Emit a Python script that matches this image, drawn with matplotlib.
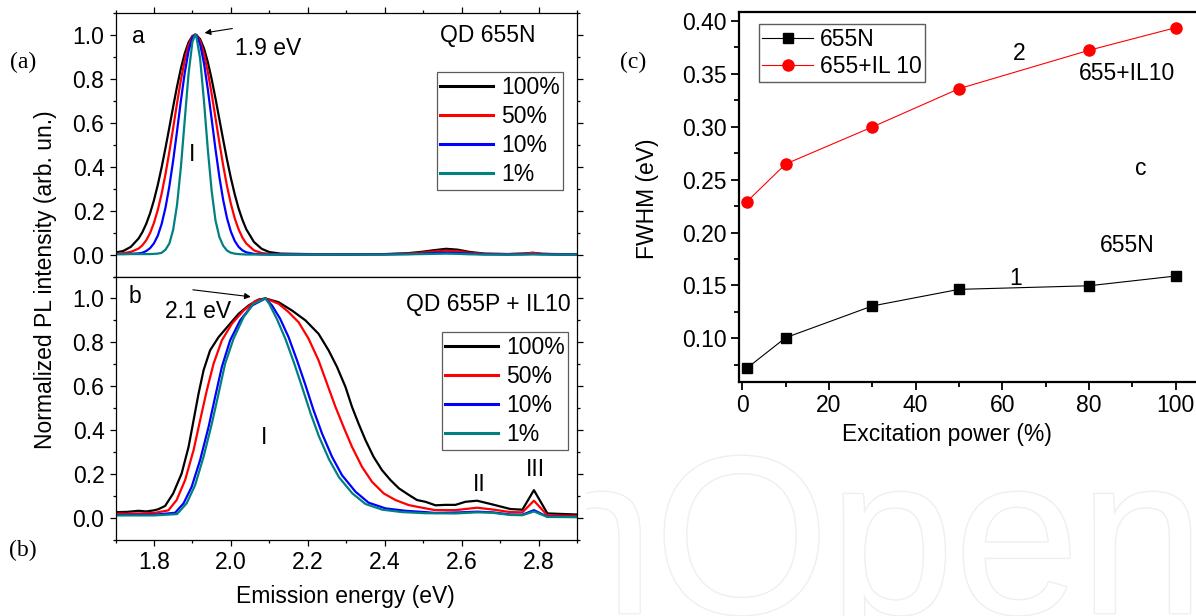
import matplotlib
matplotlib.use('Agg')
import matplotlib.pyplot as plt
from matplotlib.ticker import MultipleLocator, FormatStrFormatter
import matplotlib.patheffects as pe

plt.rcParams['font.family'] = ['Liberation Sans', 'DejaVu Sans']

# ---------------- data ----------------
# panel a: QD 655N, normalized PL spectra (shared energy grid)
energy_a = [1.70, 1.72, 1.74, 1.76, 1.77, 1.78, 1.79, 1.80, 1.81, 1.82, 1.83, 1.84, 1.85,
            1.86, 1.87, 1.88, 1.89, 1.90, 1.907, 1.91, 1.92, 1.93, 1.94, 1.95, 1.96, 1.97,
            1.98, 1.99, 2.00, 2.01, 2.02, 2.03, 2.04, 2.06, 2.08, 2.10, 2.13, 2.20, 2.30,
            2.40, 2.46, 2.50, 2.53, 2.56, 2.59, 2.62, 2.66, 2.72, 2.76, 2.785, 2.81, 2.85, 2.90]
a_100 = [0.009, 0.016, 0.035, 0.073, 0.102, 0.140, 0.188, 0.247, 0.317, 0.397, 0.485, 0.578, 0.673,
         0.764, 0.846, 0.915, 0.965, 0.994, 1.000, 0.999, 0.980, 0.938, 0.876, 0.798, 0.710, 0.616,
         0.522, 0.431, 0.348, 0.274, 0.210, 0.158, 0.115, 0.057, 0.026, 0.011, 0.004, 0.002, 0.001,
         0.002, 0.006, 0.013, 0.020, 0.026, 0.022, 0.012, 0.004, 0.002, 0.004, 0.008, 0.003, 0.002, 0.002]
a_50 = [0.004, 0.006, 0.012, 0.027, 0.042, 0.065, 0.098, 0.144, 0.203, 0.277, 0.366, 0.467, 0.576,
        0.688, 0.793, 0.884, 0.952, 0.992, 1.000, 0.999, 0.972, 0.914, 0.831, 0.731, 0.621, 0.510,
        0.405, 0.311, 0.231, 0.165, 0.115, 0.077, 0.050, 0.019, 0.007, 0.003, 0.001, 0.001, 0.001,
        0.001, 0.004, 0.009, 0.014, 0.018, 0.015, 0.008, 0.003, 0.002, 0.004, 0.007, 0.003, 0.001, 0.001]
a_10 = [0.002, 0.002, 0.003, 0.005, 0.008, 0.016, 0.029, 0.051, 0.086, 0.139, 0.213, 0.310, 0.428,
        0.561, 0.699, 0.826, 0.927, 0.987, 1.000, 0.998, 0.957, 0.871, 0.752, 0.616, 0.479, 0.354,
        0.248, 0.165, 0.104, 0.062, 0.035, 0.019, 0.010, 0.003, 0.001, 0.000, 0.000, 0.000, 0.000,
        0.001, 0.002, 0.004, 0.007, 0.009, 0.007, 0.004, 0.001, 0.000, 0.001, 0.002, 0.001, 0.000, 0.000]
a_1 = [0.002, 0.002, 0.002, 0.002, 0.002, 0.002, 0.002, 0.003, 0.004, 0.008, 0.022, 0.050, 0.113,
       0.226, 0.397, 0.611, 0.823, 0.967, 1.000, 0.994, 0.892, 0.699, 0.479, 0.290, 0.155, 0.080,
       0.040, 0.018, 0.008, 0.004, 0.002, 0.001, 0.000, 0.000, 0.000, 0.000, 0.000, 0.000, 0.000,
       0.000, 0.001, 0.002, 0.003, 0.004, 0.003, 0.001, 0.000, 0.000, 0.000, 0.001, 0.000, 0.000, 0.000]

# panel b: QD 655P + IL10
e_b100 = [1.70, 1.73, 1.76, 1.78, 1.80, 1.811, 1.829, 1.850, 1.872, 1.890, 1.903, 1.916, 1.929,
          1.946, 1.968, 1.994, 2.020, 2.046, 2.072, 2.090, 2.124, 2.159, 2.194, 2.228, 2.254,
          2.276, 2.298, 2.315, 2.332, 2.350, 2.371, 2.393, 2.415, 2.437, 2.463, 2.484, 2.506,
          2.532, 2.558, 2.584, 2.610, 2.640, 2.680, 2.727, 2.758, 2.788, 2.823, 2.90]
b_100 = [0.027, 0.028, 0.033, 0.030, 0.035, 0.040, 0.055, 0.112, 0.203, 0.324, 0.445, 0.567, 0.673,
         0.764, 0.824, 0.877, 0.930, 0.968, 0.995, 1.000, 0.983, 0.945, 0.900, 0.839, 0.764,
         0.688, 0.597, 0.506, 0.430, 0.355, 0.279, 0.218, 0.173, 0.135, 0.105, 0.082, 0.074,
         0.058, 0.060, 0.060, 0.074, 0.079, 0.062, 0.041, 0.038, 0.127, 0.021, 0.016]
e_b50 = [1.70, 1.76, 1.80, 1.8375, 1.859, 1.881, 1.903, 1.920, 1.9375, 1.955, 1.9765, 2.0026,
         2.033, 2.063, 2.090, 2.124, 2.150, 2.176, 2.202, 2.228, 2.250, 2.272, 2.293, 2.315,
         2.341, 2.367, 2.3975, 2.428, 2.4625, 2.506, 2.532, 2.584, 2.640, 2.680, 2.727, 2.758,
         2.788, 2.823, 2.90]
b_50 = [0.020, 0.021, 0.023, 0.035, 0.082, 0.173, 0.309, 0.445, 0.582, 0.703, 0.809, 0.885,
        0.945, 0.988, 1.000, 0.976, 0.938, 0.892, 0.817, 0.718, 0.612, 0.506, 0.415, 0.324,
        0.233, 0.165, 0.112, 0.082, 0.059, 0.044, 0.036, 0.036, 0.047, 0.039, 0.027, 0.026,
        0.079, 0.012, 0.010]
e_b10 = [1.70, 1.80, 1.855, 1.877, 1.898, 1.920, 1.942, 1.959, 1.9765, 1.998, 2.024, 2.055,
         2.090, 2.107, 2.128, 2.150, 2.172, 2.194, 2.215, 2.237, 2.263, 2.289, 2.324, 2.358,
         2.402, 2.454, 2.506, 2.532, 2.584, 2.640, 2.680, 2.727, 2.758, 2.788, 2.823, 2.90]
b_10 = [0.014, 0.015, 0.024, 0.067, 0.142, 0.264, 0.415, 0.551, 0.688, 0.809, 0.900, 0.968,
        1.000, 0.968, 0.908, 0.824, 0.718, 0.605, 0.491, 0.385, 0.279, 0.195, 0.120, 0.070,
        0.044, 0.033, 0.027, 0.023, 0.025, 0.029, 0.026, 0.016, 0.015, 0.036, 0.006, 0.005]
e_b1 = [1.70, 1.80, 1.860, 1.885, 1.907, 1.929, 1.9505, 1.968, 1.985, 2.007, 2.033, 2.059,
        2.090, 2.100, 2.120, 2.142, 2.164, 2.186, 2.207, 2.229, 2.255, 2.281, 2.316, 2.350,
        2.394, 2.446, 2.506, 2.584, 2.640, 2.680, 2.727, 2.758, 2.788, 2.823, 2.90]
b_1 = [0.012, 0.012, 0.018, 0.067, 0.150, 0.279, 0.430, 0.567, 0.703, 0.817, 0.915, 0.976,
       1.000, 0.975, 0.905, 0.815, 0.708, 0.592, 0.478, 0.372, 0.268, 0.186, 0.112, 0.064,
       0.038, 0.027, 0.022, 0.021, 0.026, 0.024, 0.014, 0.013, 0.030, 0.005, 0.004]

power_labels = ['100%', '50%', '10%', '1%']
colors = ['black', 'red', 'blue', '#008080']

# panel c: FWHM vs excitation power
power = [1, 10, 30, 50, 80, 100]
fwhm_655n = [0.0716, 0.1006, 0.1306, 0.1463, 0.1497, 0.1589]
fwhm_il10 = [0.229, 0.2648, 0.2998, 0.336, 0.3723, 0.3937]

# ---------------- figure ----------------
W, H = 1196, 616
fig = plt.figure(figsize=(W / 100, H / 100), dpi=100)

# faint publisher watermark behind the plots, left part hidden as in the source
ax_w = fig.add_axes([586 / W, 0, (W - 586) / W, 170 / H])
ax_w.set_zorder(-5)
ax_w.axis('off')
ax_w.set_xlim(586, W)
ax_w.set_ylim(0, 170)
ax_w.text(529, 3, 'nOpen', fontsize=162, color='white', ha='left', va='baseline', clip_on=True,
          path_effects=[pe.Stroke(linewidth=2.0, foreground='#efefef'), pe.Normal()])

ax_a = fig.add_axes([115.5 / W, 1 - 276.5 / H, 461.5 / W, 263.8 / H])
ax_b = fig.add_axes([115.5 / W, 1 - 540 / H, 461.5 / W, 263.5 / H])
ax_c = fig.add_axes([739.4 / W, 1 - 381.7 / H, 459.6 / W, 370 / H])

FS = 16.5

for ys, lab, col in zip([a_100, a_50, a_10, a_1], power_labels, colors):
    ax_a.plot(energy_a, ys, color=col, lw=1.6, label=lab)
for xs, ys, lab, col in zip([e_b100, e_b50, e_b10, e_b1], [b_100, b_50, b_10, b_1], power_labels, colors):
    ax_b.plot(xs, ys, color=col, lw=1.6, label=lab)

for ax in (ax_a, ax_b):
    ax.set_xlim(1.7, 2.9)
    ax.set_ylim(-0.1, 1.1)
    ax.xaxis.set_major_locator(MultipleLocator(0.2))
    ax.xaxis.set_minor_locator(MultipleLocator(0.1))
    ax.yaxis.set_major_locator(MultipleLocator(0.2))
    ax.yaxis.set_minor_locator(MultipleLocator(0.1))
    ax.yaxis.set_major_formatter(FormatStrFormatter('%.1f'))
    ax.tick_params(which='both', direction='out', left=True, right=True, labelsize=FS, width=0.9)
    ax.tick_params(which='major', length=4.5, pad=3.5)
    ax.tick_params(which='minor', length=2.5)
    for s in ax.spines.values():
        s.set_linewidth(0.9)
    ax.legend(loc='upper right', fontsize=FS, frameon=True, fancybox=False, edgecolor='#333333',
              handlelength=2.3, handletextpad=0.35, labelspacing=0.27, borderpad=0.15,
              borderaxespad=0)

ax_a.tick_params(axis='x', which='both', top=True, bottom=False, labelbottom=False)
ax_b.tick_params(axis='x', which='both', top=False, bottom=True)
ax_a.get_legend().set_bbox_to_anchor((0.970, 0.774))
ax_b.get_legend().set_bbox_to_anchor((0.981, 0.788))
for leg in (ax_a.get_legend(), ax_b.get_legend()):
    leg.get_frame().set_linewidth(0.9)
    for ln in leg.get_lines():
        ln.set_linewidth(2.2)

# panel a annotations
ax_a.text(1.759, 0.99, 'a', fontsize=FS, ha='center', va='center')
ax_a.text(2.792, 0.998, 'QD 655N', fontsize=FS, ha='right', va='center')
ax_a.text(2.097, 0.937, '1.9 eV', fontsize=FS, ha='center', va='center')
ax_a.annotate('', xy=(1.9245, 1.006), xytext=(2.011, 1.030),
              arrowprops=dict(arrowstyle='-|>', color='black', lw=0.8, mutation_scale=9))
ax_a.text(1.898, 0.457, 'I', fontsize=FS, ha='center', va='center')

# panel b annotations
ax_b.text(1.751, 1.009, 'b', fontsize=FS, ha='center', va='center')
ax_b.text(2.884, 0.971, 'QD 655P + IL10', fontsize=FS, ha='right', va='center')
ax_b.text(1.915, 0.941, '2.1 eV', fontsize=FS, ha='center', va='center')
ax_b.annotate('', xy=(2.059, 1.006), xytext=(1.894, 1.041),
              arrowprops=dict(arrowstyle='-|>', color='black', lw=0.8, mutation_scale=9))
ax_b.text(2.0875, 0.366, 'I', fontsize=FS, ha='center', va='center')
ax_b.text(2.647, 0.155, 'II', fontsize=FS, ha='center', va='center')
ax_b.text(2.792, 0.223, 'III', fontsize=FS, ha='center', va='center')

# shared labels for a/b
fig.text(46 / W, 1 - 280 / H, 'Normalized PL intensity (arb. un.)', rotation=90,
         fontsize=FS, ha='center', va='center')
fig.text(345 / W, 1 - 603 / H, 'Emission energy (eV)', fontsize=FS, ha='center', va='baseline')

# panel c
ax_c.plot(power, fwhm_655n, color='black', lw=0.8, marker='s', markersize=6.5, label='655N')
ax_c.plot(power, fwhm_il10, color='red', lw=0.8, marker='o', markersize=8, label='655+IL 10')
ax_c.set_xlim(-0.67, 105.4)
ax_c.set_ylim(0.059, 0.4088)
ax_c.xaxis.set_major_locator(MultipleLocator(20))
ax_c.xaxis.set_minor_locator(MultipleLocator(10))
ax_c.yaxis.set_major_locator(MultipleLocator(0.05))
ax_c.yaxis.set_minor_locator(MultipleLocator(0.025))
ax_c.yaxis.set_major_formatter(FormatStrFormatter('%.2f'))
ax_c.tick_params(which='both', direction='out', labelsize=FS, width=1.3)
ax_c.tick_params(which='major', length=6, pad=3)
ax_c.tick_params(which='minor', length=3.5)
for s in ax_c.spines.values():
    s.set_linewidth(1.6)
leg_c = ax_c.legend(loc='upper left', bbox_to_anchor=(0.0424, 0.966), fontsize=FS, frameon=True,
                    fancybox=False, edgecolor='#333333', handlelength=2.2, handletextpad=0.3,
                    labelspacing=0.2, borderpad=0.15, borderaxespad=0, numpoints=1)
leg_c.get_frame().set_linewidth(1.0)

ax_c.text(63.8, 0.3695, '2', fontsize=FS, ha='center', va='center')
ax_c.text(88.7, 0.350, '655+IL10', fontsize=FS, ha='center', va='center')
ax_c.text(92.0, 0.261, 'c', fontsize=FS, ha='center', va='center')
ax_c.text(88.8, 0.1873, '655N', fontsize=FS, ha='center', va='center')
ax_c.text(63.0, 0.157, '1', fontsize=FS, ha='center', va='center')

fig.text(647.5 / W, 1 - 199 / H, 'FWHM (eV)', rotation=90, fontsize=FS, ha='center', va='center')
fig.text(947 / W, 1 - 441 / H, 'Excitation power (%)', fontsize=FS, ha='center', va='baseline')

# panel tags (serif, as in the source figure)
serif = ['Liberation Serif', 'DejaVu Serif']
fig.text(23 / W, 1 - 62 / H, '(a)', family=serif, fontsize=17, ha='center', va='center')
fig.text(23 / W, 1 - 550 / H, '(b)', family=serif, fontsize=17, ha='center', va='center')
fig.text(633 / W, 1 - 62 / H, '(c)', family=serif, fontsize=17, ha='center', va='center')

fig.savefig('out.png', dpi=100)
